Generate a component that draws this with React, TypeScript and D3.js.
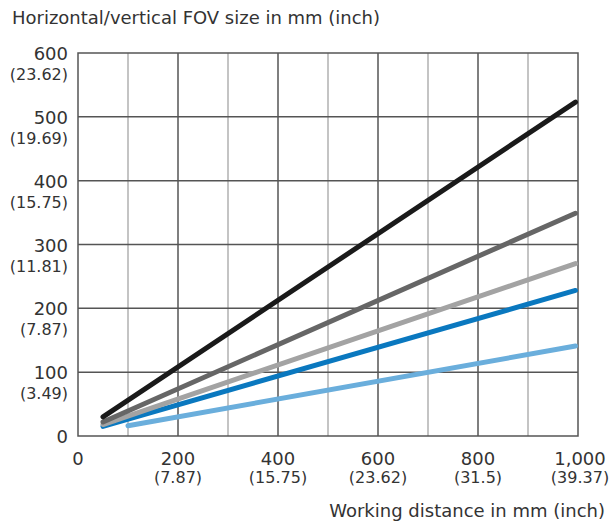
import React from 'react';
import * as d3 from 'd3';

const xTicks = [0, 200, 400, 600, 800, 1000];
const xTickLabels = ['0', '200', '400', '600', '800', '1,000'];
const xTickInch = ['', '(7.87)', '(15.75)', '(23.62)', '(31.5)', '(39.37)'];
const yTicks = [0, 100, 200, 300, 400, 500, 600];
const yTickLabels = ['0', '100', '200', '300', '400', '500', '600'];
const yTickInch = ['', '(3.49)', '(7.87)', '(11.81)', '(15.75)', '(19.69)', '(23.62)'];

const seriesColors = ['#6aaedc', '#0a78bf', '#a3a3a3', '#666666', '#1a1a1a'];
const startDistance = [100, 50, 50, 50, 50];
const endDistance = [995, 995, 995, 995, 995];
const startFov = [16, 15, 18, 22, 30];
const endFov = [141, 228, 270, 349, 523];

const W = 613, H = 525;
const left = 78, right = 578, top = 53, bottom = 436;

export default function App() {
  const x = d3.scaleLinear().domain([0, 1000]).range([left, right]);
  const y = d3.scaleLinear().domain([0, 600]).range([bottom, top]);
  const line = d3.line<[number, number]>().x(d => x(d[0])).y(d => y(d[1]));
  const vGrid = d3.range(100, 1000, 100);
  const hGrid = d3.range(100, 600, 100);
  const font = '"DejaVu Sans", Verdana, sans-serif';
  const txt = '#333';
  return (
    <svg width={W} height={H} style={{ position: 'absolute', left: 0, top: 0, background: '#fff' }} fontFamily={font}>
      <rect x={0} y={0} width={W} height={H} fill="#fff" />
      <text x={12} y={24} fontSize={17.5} fill={txt} textLength={368} lengthAdjust="spacingAndGlyphs">Horizontal/vertical FOV size in mm (inch)</text>
      {vGrid.map(v => (
        <line key={'v' + v} x1={x(v)} x2={x(v)} y1={y(0)} y2={y(600)}
          stroke={v % 200 === 0 ? '#555' : '#b0b0b0'} strokeWidth={1.5} />
      ))}
      {hGrid.map(v => (
        <line key={'h' + v} x1={x(0)} x2={x(1000)} y1={y(v)} y2={y(v)} stroke="#555" strokeWidth={1.5} />
      ))}
      <rect x={x(0)} y={y(600)} width={x(1000) - x(0)} height={y(0) - y(600)} fill="none" stroke="#555" strokeWidth={1.5} />
      {seriesColors.map((c, i) => (
        <path key={'s' + i} d={line([[startDistance[i], startFov[i]], [endDistance[i], endFov[i]]]) || ''}
          stroke={c} strokeWidth={5} fill="none" strokeLinecap="round" />
      ))}
      {yTicks.map((v, i) => (
        <g key={'yt' + v}>
          <text x={68} y={y(v) + 7} fontSize={18} textAnchor="end" fill={txt}>{yTickLabels[i]}</text>
          {yTickInch[i] && <text x={68} y={y(v) + 27} fontSize={16} textAnchor="end" fill={txt}>{yTickInch[i]}</text>}
        </g>
      ))}
      {xTicks.map((v, i) => (
        <g key={'xt' + v}>
          <text x={x(v) + (v === 1000 ? 2 : 0)} y={465} fontSize={18} textAnchor="middle" fill={txt}>{xTickLabels[i]}</text>
          {xTickInch[i] && <text x={x(v) + (v === 1000 ? 2 : 0)} y={483} fontSize={16} textAnchor="middle" fill={txt}>{xTickInch[i]}</text>}
        </g>
      ))}
      <text x={605} y={517} fontSize={18} textAnchor="end" fill={txt}>Working distance in mm (inch)</text>
    </svg>
  );
}
